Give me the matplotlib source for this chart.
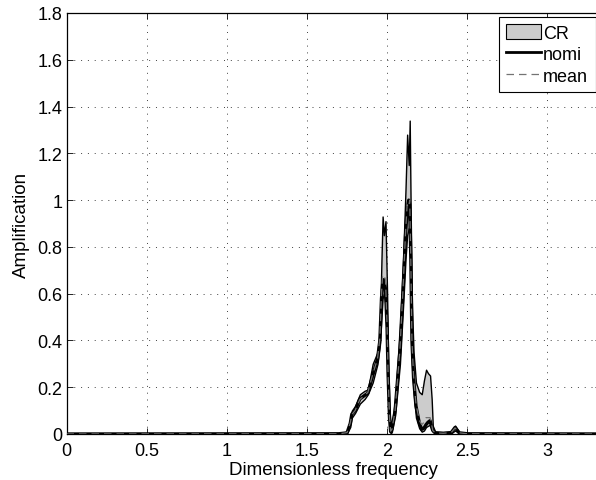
import numpy as np
import matplotlib
matplotlib.use("Agg")
import matplotlib.pyplot as plt
from matplotlib.patches import Patch
from matplotlib.lines import Line2D

plt.rcParams["font.family"] = ["Liberation Sans", "DejaVu Sans"]

# frequency samples (dimensionless)
freq = [0.0, 1.70, 1.75, 1.77, 1.78, 1.80, 1.83, 1.86, 1.88, 1.91, 1.94, 1.955,
        1.965, 1.972, 1.98, 1.99, 2.0, 2.006, 2.015, 2.022, 2.03, 2.05, 2.08,
        2.10, 2.115, 2.125, 2.135, 2.141, 2.148, 2.155, 2.165, 2.18, 2.2, 2.216,
        2.23, 2.243, 2.255, 2.268, 2.278, 2.285, 2.3, 2.35, 2.40, 2.424, 2.45,
        2.5, 3.4]

# confidence region bounds
cr_upper = [0, 0.002, 0.01, 0.06, 0.10, 0.12, 0.17, 0.185, 0.19, 0.30, 0.35, 0.45,
            0.75, 0.93, 0.85, 0.91, 0.60, 0.33, 0.10, 0.03, 0.04, 0.15, 0.45,
            0.75, 1.05, 1.28, 1.15, 1.34, 0.90, 0.55, 0.35, 0.22, 0.18, 0.17,
            0.23, 0.275, 0.26, 0.25, 0.15, 0.035, 0.01, 0.008, 0.01, 0.036, 0.008,
            0.002, 0]
cr_lower = [0, 0, 0.003, 0.03, 0.07, 0.09, 0.13, 0.15, 0.17, 0.22, 0.30, 0.38,
            0.50, 0.58, 0.60, 0.55, 0.35, 0.20, 0.05, 0.0, 0.01, 0.08, 0.30,
            0.55, 0.75, 0.85, 0.88, 0.87, 0.60, 0.30, 0.18, 0.07, 0.025, 0.01,
            0.015, 0.03, 0.035, 0.04, 0.02, 0.01, 0.003, 0.001, 0.003, 0.015, 0.003,
            0, 0]

# nominal response
nomi = [0, 0.001, 0.005, 0.045, 0.085, 0.10, 0.15, 0.165, 0.175, 0.25, 0.32, 0.40,
        0.58, 0.64, 0.66, 0.62, 0.45, 0.26, 0.07, 0.01, 0.02, 0.10, 0.36,
        0.62, 0.85, 0.96, 1.00, 0.98, 0.75, 0.40, 0.24, 0.12, 0.05, 0.02,
        0.025, 0.04, 0.05, 0.057, 0.03, 0.015, 0.005, 0.003, 0.006, 0.028, 0.005,
        0.001, 0]

# mean response
mean = [0, 0.001, 0.006, 0.047, 0.083, 0.10, 0.148, 0.165, 0.178, 0.255, 0.32, 0.41,
        0.60, 0.68, 0.68, 0.66, 0.46, 0.26, 0.07, 0.012, 0.02, 0.10, 0.36,
        0.63, 0.86, 0.98, 0.97, 1.00, 0.74, 0.40, 0.25, 0.13, 0.06, 0.04,
        0.05, 0.07, 0.07, 0.07, 0.04, 0.015, 0.005, 0.003, 0.006, 0.026, 0.005,
        0.001, 0]

xticks = [0, 0.5, 1, 1.5, 2, 2.5, 3]
yticks = [0, 0.2, 0.4, 0.6, 0.8, 1, 1.2, 1.4, 1.6, 1.8]

W, H = 596, 481
fig = plt.figure(figsize=(W / 100, H / 100), dpi=100)
# axes run slightly past the right edge of the picture (cropped like the original)
x0, x1, y0, y1 = 66.5, 601.0, 435.0, 14.0
ax = fig.add_axes([x0 / W, 1 - y0 / H, (x1 - x0) / W, (y0 - y1) / H])

ax.fill_between(freq, cr_lower, cr_upper, facecolor="0.8", edgecolor="black",
                linewidth=1.0, zorder=2)
ax.plot(freq, nomi, color="black", linewidth=2.4, zorder=3)
ax.plot(freq, mean, color="0.45", linewidth=0.9, linestyle=(0, (6, 4)), zorder=4)

ax.set_xlim(0, (x1 - x0) / 160.3)
ax.set_ylim(0, 1.8)
ax.set_xticks(xticks)
ax.set_yticks(yticks)
ax.set_xticklabels([f"{t:g}" for t in xticks])
ax.set_yticklabels([f"{t:g}" for t in yticks])
ax.tick_params(direction="in", top=True, right=True, labelsize=13, length=4,
               width=0.6, pad=3)
ax.tick_params(axis="x", pad=6)
ax.grid(True, linestyle=(0, (1, 6)), color="0.25", linewidth=0.7)
ax.set_axisbelow(True)
for s in ax.spines.values():
    s.set_linewidth(0.9)

ax.set_xlabel("Dimensionless frequency", fontsize=13.5, labelpad=1)
ax.set_ylabel("Amplification", fontsize=13.5, labelpad=5)

handles = [Patch(facecolor="0.8", edgecolor="black", linewidth=0.8),
           Line2D([], [], color="black", linewidth=2),
           Line2D([], [], color="0.45", linewidth=0.9, linestyle=(0, (6, 4)))]
leg = fig.legend(handles, ["CR", "nomi", "mean"], loc="upper right",
                 bbox_to_anchor=(595.5 / W, 1 - 18 / H),
                 fontsize=13, fancybox=False, framealpha=1, edgecolor="black",
                 handlelength=1.9, handleheight=0.85, handletextpad=0.15,
                 borderpad=0.4, labelspacing=0.22, borderaxespad=0)
leg.get_frame().set_linewidth(0.8)

fig.savefig("out.png", dpi=100)
